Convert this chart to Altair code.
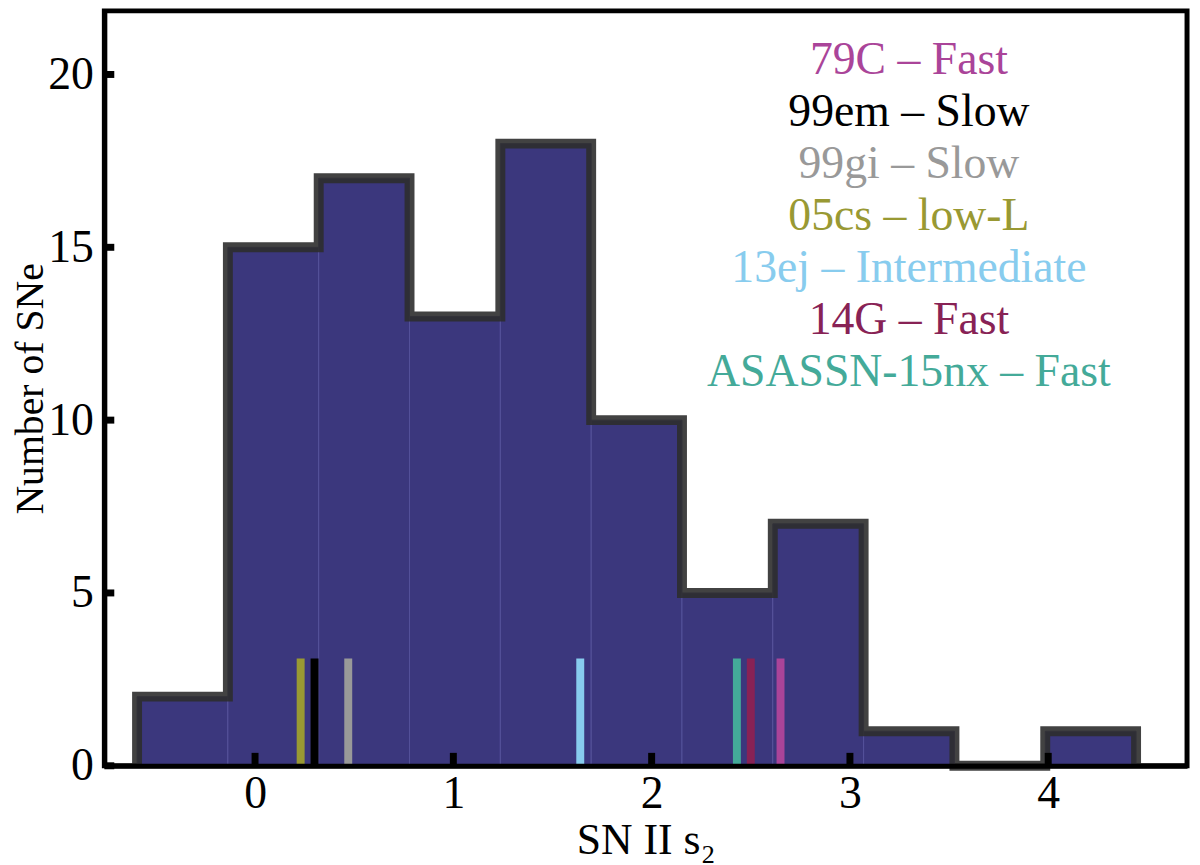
import altair as alt
import pandas as pd

# histogram of s2 slopes
bin_edges = [-0.595, -0.137, 0.321, 0.779, 1.237, 1.695, 2.153, 2.611, 3.069, 3.527, 3.985, 4.443]
counts = [2, 15, 17, 13, 18, 10, 5, 7, 1, 0, 1]

# individual SNe marked on the histogram
sn_names = ["79C", "99em", "99gi", "05cs", "13ej", "14G", "ASASSN-15nx"]
sn_classes = ["Fast", "Slow", "Slow", "low-L", "Intermediate", "Fast", "Fast"]
sn_s2 = [2.65, 0.30, 0.47, 0.23, 1.64, 2.50, 2.43]
sn_colors = ["#AA4499", "#000000", "#999999", "#999933", "#88CCEE", "#882255", "#44AA99"]
marker_top = 3.1

x_ticks = [0, 1, 2, 3, 4]
y_ticks = [0, 5, 10, 15, 20]

W, H = 1090, 760
FONT = "Liberation Serif"

bars_df = pd.DataFrame({"lo": bin_edges[:-1], "hi": bin_edges[1:], "n": counts, "zero": 0})
step_df = pd.DataFrame({
    "x": [bin_edges[0]] + bin_edges + [bin_edges[-1]],
    "y": [0] + counts + [counts[-1], 0],
})
step_df["i"] = range(len(step_df))
sn_df = pd.DataFrame({"name": sn_names, "s2": sn_s2, "base": 0, "top": marker_top})

xscale = alt.Scale(domain=[-0.76, 4.70], nice=False, zero=False)
yscale = alt.Scale(domain=[0, 21.84], nice=False)
cscale = alt.Scale(domain=sn_names, range=sn_colors)

x_axis = alt.Axis(values=x_ticks, format="d", title="SN II s₂", ticks=False, labelPadding=6,
                  titlePadding=2, zindex=1)
y_axis = alt.Axis(values=y_ticks, format="d", title="Number of SNe", ticks=False,
                  labelPadding=11, titleFontSize=40, titleX=-62, titleBaseline="alphabetic",
                  zindex=1)

bars = alt.Chart(bars_df).mark_rect(fill="#3b377d", stroke="#55529a", strokeWidth=1,
                                    opacity=1).encode(
    x=alt.X("lo:Q", scale=xscale, axis=x_axis),
    x2="hi:Q",
    y=alt.Y("n:Q", scale=yscale, axis=y_axis),
    y2="zero:Q",
)

outline = alt.Chart(step_df).mark_line(
    interpolate="step-after", color="#2e2e2e", opacity=0.9, strokeWidth=10, strokeJoin="miter"
).encode(x="x:Q", y="y:Q", order="i:O")

markers = alt.Chart(sn_df).mark_rule(strokeWidth=8).encode(
    x="s2:Q",
    y="base:Q",
    y2="top:Q",
    color=alt.Color("name:N", scale=cscale, legend=None),
)

xt = alt.Chart(pd.DataFrame({"v": x_ticks})).mark_rule(color="black", strokeWidth=7).encode(
    x="v:Q", y=alt.value(H), y2=alt.value(H - 13)
)
yt = alt.Chart(pd.DataFrame({"v": y_ticks})).mark_rule(color="black", strokeWidth=7).encode(
    y="v:Q", x=alt.value(0), x2=alt.value(10)
)

# coloured text legend, one line per SN
legend_rows = []
for i, (name, cls, col) in enumerate(zip(sn_names, sn_classes, sn_colors)):
    legend_rows.append(
        alt.Chart(pd.DataFrame({"label": [name + " – " + cls]})).mark_text(
            font=FONT, fontSize=46, align="center", baseline="alphabetic", color=col
        ).encode(x=alt.value(810), y=alt.value(64 + i * 52.2), text="label:N")
    )

chart = alt.layer(bars, outline, markers, xt, yt, *legend_rows).properties(
    width=W, height=H,
    autosize=alt.AutoSizeParams(type="none"),
    padding={"left": 97, "top": 0, "right": 5, "bottom": 97},
).configure_view(
    stroke="black", strokeWidth=5
).configure_axis(
    grid=False, domainColor="black", domainWidth=5,
    labelFont=FONT, labelFontSize=46, labelColor="black",
    titleFont=FONT, titleFontSize=44, titleFontWeight="normal", titleColor="black",
)

chart.save("out.html", embed_options={"renderer": "svg", "actions": False})
